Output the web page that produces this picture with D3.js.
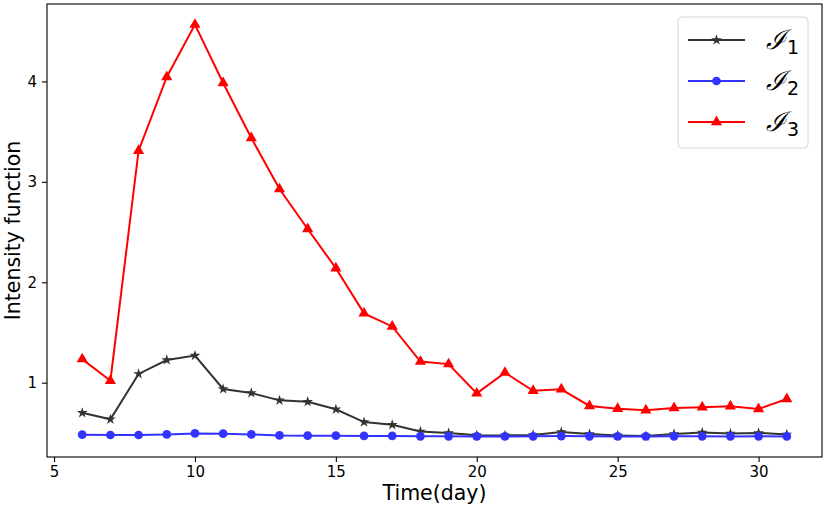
<!DOCTYPE html>
<html>
<head>
<meta charset="utf-8">
<script src="https://cdn.jsdelivr.net/npm/d3@7"></script>
<style>
  body { margin: 0; background: #fff; }
  text { font-family: "DejaVu Sans", sans-serif; }
</style>
</head>
<body>
<div id="chart"></div>
<script>
// days on the x axis
let days = [6, 7, 8, 9, 10, 11, 12, 13, 14, 15, 16, 17, 18, 19, 20, 21, 22, 23, 24, 25, 26, 27, 28, 29, 30, 31];
// the three intensity functions
let i1 = [0.70, 0.635, 1.087, 1.226, 1.27, 0.937, 0.897, 0.824, 0.81, 0.735, 0.608, 0.58, 0.515, 0.50, 0.476, 0.475, 0.48, 0.51, 0.488, 0.475, 0.468, 0.49, 0.505, 0.495, 0.50, 0.485];
let i2 = [0.482, 0.479, 0.479, 0.485, 0.495, 0.492, 0.485, 0.475, 0.472, 0.472, 0.47, 0.47, 0.466, 0.466, 0.465, 0.465, 0.466, 0.468, 0.466, 0.465, 0.465, 0.466, 0.466, 0.465, 0.466, 0.465];
let i3 = [1.235, 1.02, 3.31, 4.045, 4.566, 3.985, 3.437, 2.928, 2.53, 2.14, 1.69, 1.56, 1.21, 1.185, 0.894, 1.10, 0.92, 0.934, 0.768, 0.74, 0.725, 0.748, 0.755, 0.765, 0.738, 0.837];
let x_ticks = [5, 10, 15, 20, 25, 30];
let y_ticks = [1, 2, 3, 4];
let names = ["1", "2", "3"];

let chart_width = 830;
let chart_height = 508;
let m = { left: 47, right: 8, top: 4, bottom: 51 };

let svg = d3.select("#chart").append("svg")
  .attr("width", chart_width)
  .attr("height", chart_height);

// matplotlib style 5% margins around the data
let all = i1.concat(i2, i3);
let xmin = d3.min(days), xmax = d3.max(days);
let ymin = d3.min(all), ymax = d3.max(all);
let dx = (xmax - xmin) * 0.05, dy = (ymax - ymin) * 0.05;

let x_scale = d3.scaleLinear()
  .domain([xmin - dx, xmax + dx])
  .range([m.left, chart_width - m.right]);
let y_scale = d3.scaleLinear()
  .domain([ymin - dy, ymax + dy])
  .range([chart_height - m.bottom, m.top]);

let series = [
  { vals: i1, color: "#333333", sym: d3.symbolStar, size: 36 },
  { vals: i2, color: "#3333ff", sym: d3.symbolCircle, size: 60 },
  { vals: i3, color: "#ff0000", sym: d3.symbolTriangle, size: 54 }
];

let line = d3.line()
  .x(function (d) { return x_scale(d[0]); })
  .y(function (d) { return y_scale(d[1]); });

series.forEach(function (s) {
  let pts = days.map(function (d, i) { return [d, s.vals[i]]; });
  svg.append("path")
    .attr("d", line(pts))
    .attr("fill", "none")
    .attr("stroke", s.color)
    .attr("stroke-width", 2);
  svg.append("g").selectAll("path")
    .data(pts)
    .enter()
    .append("path")
    .attr("d", d3.symbol().type(s.sym).size(s.size))
    .attr("transform", function (d) {
      return "translate(" + x_scale(d[0]) + "," + y_scale(d[1]) + ")";
    })
    .attr("fill", s.color);
});

// axes
let xa = svg.append("g")
  .attr("transform", "translate(0," + (chart_height - m.bottom) + ")")
  .call(d3.axisBottom(x_scale).tickValues(x_ticks).tickFormat(d3.format("d"))
    .tickSize(5).tickPadding(4).tickSizeOuter(0));
let ya = svg.append("g")
  .attr("transform", "translate(" + m.left + ",0)")
  .call(d3.axisLeft(y_scale).tickValues(y_ticks).tickFormat(d3.format("d"))
    .tickSize(5).tickPadding(5).tickSizeOuter(0));
[xa, ya].forEach(function (a) {
  a.select(".domain").remove();
  a.selectAll("line").attr("stroke", "#000").attr("stroke-width", 1.1);
  a.selectAll("text").attr("font-size", 15).attr("fill", "#000")
    .attr("font-family", "DejaVu Sans");
});

// frame
svg.append("rect")
  .attr("x", m.left)
  .attr("y", m.top)
  .attr("width", chart_width - m.left - m.right)
  .attr("height", chart_height - m.top - m.bottom)
  .attr("fill", "none")
  .attr("stroke", "#000")
  .attr("stroke-width", 1.1);

// axis labels
svg.append("text")
  .attr("x", (m.left + chart_width - m.right) / 2)
  .attr("y", 500)
  .attr("text-anchor", "middle")
  .attr("font-size", 20.5)
  .text("Time(day)");
svg.append("text")
  .attr("transform", "translate(20," + (m.top + chart_height - m.bottom) / 2 + ") rotate(-90)")
  .attr("text-anchor", "middle")
  .attr("font-size", 20.5)
  .text("Intensity function");

// legend
let lg = svg.append("g").attr("transform", "translate(678,17)");
lg.append("rect")
  .attr("width", 130)
  .attr("height", 131)
  .attr("rx", 4)
  .attr("fill", "#fff")
  .attr("fill-opacity", 0.8)
  .attr("stroke", "#d6d6d6");
series.forEach(function (s, i) {
  let y = 23 + i * 41;
  lg.append("line")
    .attr("x1", 10).attr("x2", 67)
    .attr("y1", y).attr("y2", y)
    .attr("stroke", s.color)
    .attr("stroke-width", 2);
  lg.append("path")
    .attr("d", d3.symbol().type(s.sym).size(s.size))
    .attr("transform", "translate(38.5," + y + ")")
    .attr("fill", s.color);
  let t = lg.append("text")
    .attr("x", 88)
    .attr("y", y + 9)
    .attr("font-size", 27);
  t.append("tspan")
    .attr("font-family", "DejaVu Serif")
    .attr("font-style", "italic")
    .text("ℐ");
  t.append("tspan")
    .attr("font-size", 19)
    .attr("dy", 5)
    .attr("dx", 1)
    .text(names[i]);
});
</script>
</body>
</html>
